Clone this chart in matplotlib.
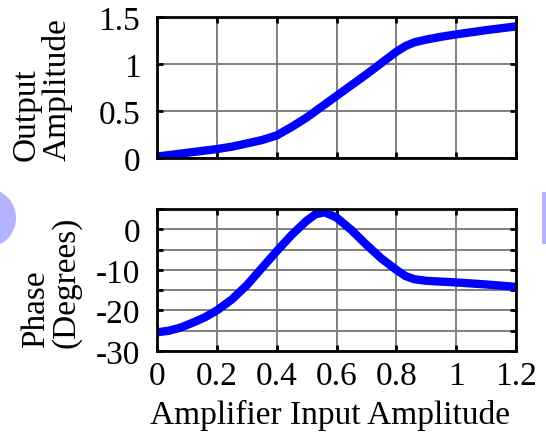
import matplotlib.pyplot as plt
from matplotlib.patches import Ellipse, Rectangle

# amplitude (AM/AM) curve
amp_x = [0.0, 0.1, 0.2, 0.25, 0.3, 0.35, 0.4, 0.45, 0.5, 0.55, 0.6, 0.65, 0.7, 0.75,
         0.8, 0.83, 0.86, 0.9, 0.95, 1.0, 1.1, 1.2]
amp_y = [0.015, 0.055, 0.095, 0.12, 0.155, 0.19, 0.24, 0.33, 0.43, 0.545, 0.66, 0.775,
         0.89, 1.01, 1.13, 1.19, 1.23, 1.26, 1.29, 1.315, 1.36, 1.40]

# phase (AM/PM) curve
ph_x = [0.0, 0.04, 0.08, 0.12, 0.16, 0.2, 0.25, 0.3, 0.35, 0.4, 0.45, 0.5, 0.53, 0.56,
        0.6, 0.65, 0.7, 0.75, 0.8, 0.83, 0.86, 0.9, 1.0, 1.1, 1.2]
ph_y = [-25.4, -25.0, -24.2, -23.0, -21.7, -20.0, -17.3, -13.8, -9.6, -5.4, -1.4, 2.1,
        3.7, 4.2, 2.9, -0.2, -3.8, -7.2, -10.0, -11.5, -12.3, -12.7, -13.1, -13.6, -14.2]

x_ticks = [0, 0.2, 0.4, 0.6, 0.8, 1, 1.2]
x_labels = ["0", "0.2", "0.4", "0.6", "0.8", "1", "1.2"]
amp_ticks = [0, 0.5, 1, 1.5]
amp_labels = ["0", "0.5", "1", "1.5"]
ph_ticks = [-30, -25, -20, -15, -10, -5, 0, 5]
ph_labels = ["-30", "", "-20", "", "-10", "", "0", ""]

plt.rcParams["font.family"] = ["Liberation Serif", "DejaVu Serif"]
plt.rcParams["font.size"] = 24

fig = plt.figure(figsize=(5.46, 4.35), dpi=100)
W, H = 546, 435


def px_axes(left, top, right, bottom):
    return fig.add_axes([left / W, 1 - bottom / H, (right - left) / W, (bottom - top) / H])


def style(ax):
    ax.grid(True, color="#808080", linewidth=1.4)
    ax.set_axisbelow(True)
    for s in ax.spines.values():
        s.set_linewidth(2.0)
    ax.tick_params(direction="in", length=4, width=2, top=True, right=True)


ax1 = px_axes(157, 18, 516, 159)
ax1.plot(amp_x, amp_y, color="#0000ff", linewidth=6, solid_joinstyle="round")
ax1.set_xlim(0, 1.2)
ax1.set_ylim(0, 1.5)
ax1.set_xticks(x_ticks)
ax1.set_xticklabels([])
ax1.set_yticks(amp_ticks)
ax1.set_yticklabels(amp_labels)
style(ax1)
ax1.tick_params(axis="y", pad=12)

ax2 = px_axes(157, 210, 516, 352)
ax2.plot(ph_x, ph_y, color="#0000ff", linewidth=6, solid_joinstyle="round")
ax2.set_xlim(0, 1.2)
ax2.set_ylim(-30, 5)
ax2.set_xticks(x_ticks)
ax2.set_xticklabels(x_labels)
ax2.set_yticks(ph_ticks)
ax2.set_yticklabels(ph_labels)
style(ax2)
ax2.tick_params(axis="y", pad=12)
ax2.tick_params(axis="x", pad=7)

fig.text(42 / W, 1 - 90 / H, "Output\nAmplitude", rotation=90, ha="center", va="center",
         multialignment="left", linespacing=1.0)
fig.text(51 / W, 1 - 282 / H, "Phase\n(Degrees)", rotation=90, ha="center", va="center",
         multialignment="left", linespacing=1.0)
fig.text(330 / W, 1 - 415 / H, "Amplifier Input Amplitude", ha="center", va="center")

# slide decorations peeking in at the edges
fig.patches.append(Ellipse((-12 / W, 1 - 219 / H), 56 / W, 58 / H, transform=fig.transFigure,
                           facecolor="#b3b3ff", edgecolor="none"))
fig.patches.append(Rectangle((542 / W, 1 - 245 / H), 10 / W, 52 / H, transform=fig.transFigure,
                             facecolor="#b3b3ff", edgecolor="none"))

fig.savefig("out.png", dpi=100)
